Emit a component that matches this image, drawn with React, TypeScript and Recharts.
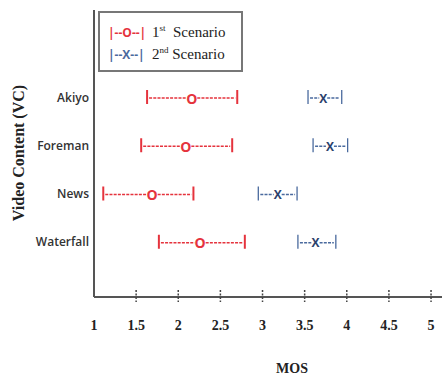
import { ComposedChart, Bar, XAxis, YAxis } from 'recharts'

const videos = ['Akiyo', 'Foreman', 'News', 'Waterfall']
// 1st scenario: low / mean / high MOS
const s1Low = [1.63, 1.56, 1.11, 1.77]
const s1Mos = [2.16, 2.09, 1.69, 2.26]
const s1High = [2.7, 2.64, 2.18, 2.79]
// 2nd scenario
const s2Low = [3.54, 3.6, 2.95, 3.42]
const s2Mos = [3.72, 3.8, 3.18, 3.63]
const s2High = [3.94, 4.01, 3.41, 3.87]
const mosTicks = [1, 1.5, 2, 2.5, 3, 3.5, 4, 4.5, 5]

const chartData = videos.map((name, i) => ({
  name,
  s1: [s1Low[i], s1High[i]],
  s1Mos: s1Mos[i],
  s2: [s2Low[i], s2High[i]],
  s2Mos: s2Mos[i],
}))

const RED = '#E5333D'
const BLUE = '#4A6A9E'
const NAVY = '#2B416C'

function RangeMark({ x, y, width, height, payload, range, mos, letter, color, letterColor, thick }: any) {
  const [lo, hi] = payload[range]
  const cy = y + height / 2
  const mx = x + (width * (payload[mos] - lo)) / (hi - lo)
  const gap = letter === 'O' ? 5.5 : 4
  return (
    <g>
      <line x1={x} x2={x} y1={cy - 7} y2={cy + 7} stroke={color} strokeWidth={thick} />
      <line x1={x + width} x2={x + width} y1={cy - 7} y2={cy + 7} stroke={color} strokeWidth={thick} />
      <line x1={x + 2} x2={mx - gap} y1={cy + 1} y2={cy + 1} stroke={color} strokeWidth={1.3} strokeDasharray="3 1.2" />
      <line x1={mx + gap} x2={x + width - 2} y1={cy + 1} y2={cy + 1} stroke={color} strokeWidth={1.3} strokeDasharray="3 1.2" />
      <text
        x={mx}
        y={cy + 1}
        textAnchor="middle"
        dominantBaseline="central"
        fontFamily="Open Sans"
        fontWeight={700}
        fontSize={letter === 'O' ? 14 : 12}
        fill={letterColor}
      >
        {letter}
      </text>
    </g>
  )
}

const MosTick = ({ x, y, payload }: any) => (
  <g>
    {payload.value !== 1 && (
      <line x1={x} x2={x} y1={y - 7} y2={y + 5} stroke="#444" strokeWidth={1.5} strokeDasharray="2 1.5" />
    )}
    <text x={x} y={y + 33} textAnchor="middle" fontFamily="Liberation Serif" fontWeight={700} fontSize={14} fill="#222">
      {payload.value}
    </text>
  </g>
)

const VideoTick = ({ x, y, payload }: any) => (
  <text x={x} y={y} textAnchor="end" dominantBaseline="central" fontFamily="Open Sans" fontWeight={600} fontSize={12} fill="#333">
    {payload.value}
  </text>
)

const legendGlyph = { fontFamily: 'Open Sans', fontWeight: 700, fontSize: 12, width: 44, display: 'inline-block' }
const legendText = { fontFamily: 'Liberation Serif', fontSize: 15, color: '#222' }
const sup = { fontSize: 9, lineHeight: 0, verticalAlign: 'super' }

export default function App() {
  return (
    <div style={{ position: 'relative', width: 442, height: 384, background: '#fff' }}>
      <style>{'body{margin:0}'}</style>
      <ComposedChart width={442} height={384} data={chartData} layout="vertical" margin={{ top: 10, right: 0, bottom: 0, left: 0 }}>
        <XAxis
          type="number"
          domain={[1, 5.13]}
          ticks={mosTicks}
          allowDataOverflow
          height={87}
          axisLine={{ stroke: '#555', strokeWidth: 2 }}
          tickLine={false}
          tickSize={0}
          tickMargin={0}
          tick={<MosTick />}
          label={{
            content: ({ viewBox }: any) => (
              <text
                x={viewBox.x + viewBox.width / 2 + 24}
                y={viewBox.y + 76}
                textAnchor="middle"
                fontFamily="Liberation Serif"
                fontWeight={700}
                fontSize={14}
                fill="#222"
              >
                MOS
              </text>
            ),
          }}
        />
        <YAxis
          yAxisId="s1"
          type="category"
          dataKey="name"
          width={94}
          padding={{ top: 63, bottom: 31 }}
          axisLine={{ stroke: '#555', strokeWidth: 2 }}
          tickLine={false}
          tickSize={0}
          tickMargin={5}
          tick={<VideoTick />}
          label={{
            content: ({ viewBox }: any) => (
              <text
                transform={`translate(18, ${viewBox.y + 143}) rotate(-90)`}
                textAnchor="middle"
                dominantBaseline="central"
                fontFamily="Liberation Serif"
                fontWeight={700}
                fontSize={16}
                fill="#222"
              >
                Video Content (VC)
              </text>
            ),
          }}
        />
        <YAxis yAxisId="s2" type="category" dataKey="name" hide padding={{ top: 63, bottom: 31 }} />
        <Bar
          yAxisId="s1"
          dataKey="s1"
          barSize={14}
          isAnimationActive={false}
          shape={(p: any) => <RangeMark {...p} range="s1" mos="s1Mos" letter="O" color={RED} letterColor={RED} thick={2} />}
        />
        <Bar
          yAxisId="s2"
          dataKey="s2"
          barSize={14}
          isAnimationActive={false}
          shape={(p: any) => <RangeMark {...p} range="s2" mos="s2Mos" letter="X" color={BLUE} letterColor={NAVY} thick={1.3} />}
        />
      </ComposedChart>
      <div
        style={{
          position: 'absolute',
          left: 98,
          top: 11,
          width: 145,
          height: 61,
          border: '2px solid #777',
          background: '#fff',
          padding: '8px 0 0 8px',
          boxSizing: 'border-box',
          lineHeight: '22px',
        }}
      >
        <div style={{ whiteSpace: 'nowrap', height: 22 }}>
          <span style={{ ...legendGlyph, color: RED }}>|--O--|</span>
          <span style={legendText}>
            1<sup style={sup}>st</sup>&nbsp; Scenario
          </span>
        </div>
        <div style={{ whiteSpace: 'nowrap', height: 22 }}>
          <span style={{ ...legendGlyph, color: BLUE }}>|--X--|</span>
          <span style={legendText}>
            2<sup style={sup}>nd</sup> Scenario
          </span>
        </div>
      </div>
    </div>
  )
}
